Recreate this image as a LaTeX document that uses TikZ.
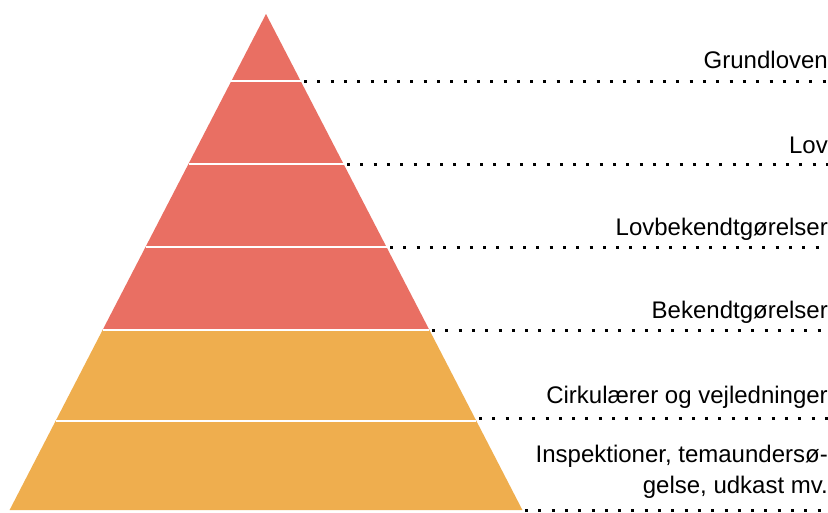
\documentclass[tikz,border=0pt]{standalone}
\usepackage{fontspec}
\setmainfont{Liberation Sans}
\definecolor{lawred}{RGB}{233,111,99}
\definecolor{guideorange}{RGB}{239,174,78}
\begin{document}
\begin{tikzpicture}[x=1pt,y=-1pt,
  divider/.style={white,line width=2.2pt},
  leader/.style={line width=3pt,dash pattern=on 3pt off 10.3pt},
  tier/.style={anchor=base east,inner sep=0pt,font=\fontsize{24}{31}\selectfont,align=right}]
  \useasboundingbox (0,0) rectangle (828,512);

  % pyramid tiers, top to bottom
  \fill[white] (0,0) rectangle (828,512);
  \fill[lawred] (266,14) -- (429.4,330) -- (102.6,330) -- cycle;
  \fill[guideorange] (102.6,330) -- (429.4,330) -- (522.4,510) -- (9.6,510) -- cycle;
  \draw[divider] (231.4,81) -- (300.6,81);
  \draw[divider] (188.5,164) -- (343.6,164);
  \draw[divider] (145.5,247) -- (386.5,247);
  \draw[divider] (102.6,330) -- (429.4,330);
  \draw[divider] (55.6,421) -- (476.4,421);

  % leader line ends on the pyramid edge and at the right margin
  \coordinate (p1) at (304,81);   \coordinate (q1) at (830,81);
  \coordinate (p2) at (347,164);  \coordinate (q2) at (830,164);
  \coordinate (p3) at (390,247);  \coordinate (q3) at (830,247);
  \coordinate (p4) at (432,330);  \coordinate (q4) at (830,330);
  \coordinate (p5) at (479,418);  \coordinate (q5) at (830,418);
  \coordinate (p6) at (525,510);  \coordinate (q6) at (830,510);

  \foreach \i in {1,...,6} \draw[leader] (p\i) -- (q\i);

  % tier labels
  \node[tier] (grundloven) at (828,68) {Grundloven};
  \node[tier] (lov) at (828,153) {Lov};
  \node[tier] (lovbek) at (828,235) {Lovbekendtgørelser};
  \node[tier] (bek) at (828,318) {Bekendtgørelser};
  \node[tier] (cirk) at (828,403) {Cirkulærer og vejledninger};
  \node[tier,anchor=east] (insp) at (828,472) {Inspektioner, temaundersø-\\gelse, udkast mv.};
\end{tikzpicture}
\end{document}
